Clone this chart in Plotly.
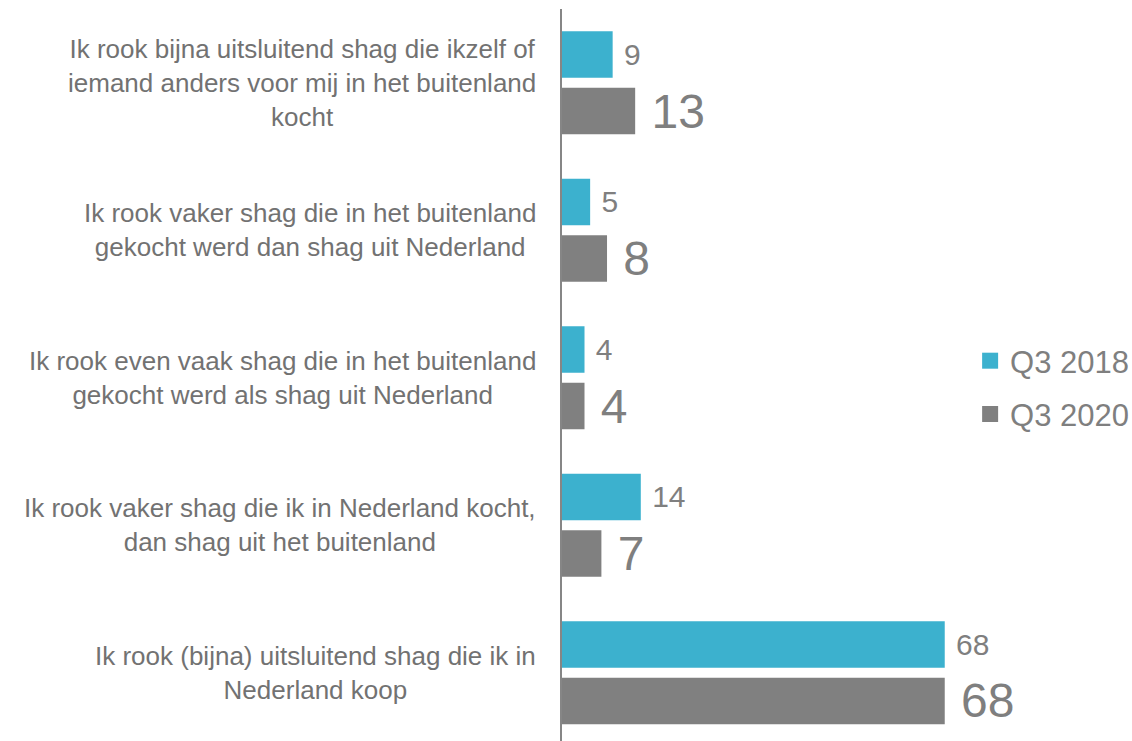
import plotly.graph_objects as go

categories = [
    "Ik rook bijna uitsluitend shag die ikzelf of<br>iemand anders voor mij in het buitenland<br>kocht",
    "Ik rook vaker shag die in het buitenland<br>gekocht werd dan shag uit Nederland",
    "Ik rook even vaak shag die in het buitenland<br>gekocht werd als shag uit Nederland",
    "Ik rook vaker shag die ik in Nederland kocht,<br>dan shag uit het buitenland",
    "Ik rook (bijna) uitsluitend shag die ik in<br>Nederland koop",
]
series_names = ["Q3 2018", "Q3 2020"]
values_2018 = [9, 5, 4, 14, 68]
values_2020 = [13, 8, 4, 7, 68]

FONT = "Liberation Sans, Arial, sans-serif"
CYAN = "#3CB1CE"
GREY = "#808080"
TEXT_GREY = "#7F7F7F"
TICK_GREY = "#727272"

fig = go.Figure()
for name, vals, col, size in [
    (series_names[0], values_2018, CYAN, 30),
    (series_names[1], values_2020, GREY, 48),
]:
    fig.add_trace(go.Bar(
        y=categories, x=vals, orientation="h", name=name,
        marker=dict(color=col, line=dict(width=0)),
        text=vals, texttemplate="\u00a0%{x}", textposition="outside",
        textfont=dict(size=size, color=TEXT_GREY, family=FONT),
        constraintext="none", cliponaxis=False, showlegend=False,
        hoverinfo="skip",
    ))

# legend entries with larger square symbols
for name, col in zip(series_names, [CYAN, GREY]):
    fig.add_trace(go.Scatter(
        x=[None], y=[None], mode="markers", name=name, legendgroup=name,
        marker=dict(symbol="square", size=16, color=col),
    ))

annotations = [
    dict(x=0, xref="paper", y=c, yref="y", text=c, showarrow=False,
         xanchor="right", yanchor="middle", xshift=-24, align="center",
         font=dict(size=26, color=TICK_GREY, family=FONT))
    for c in categories
]

fig.update_layout(
    width=1132, height=741,
    margin=dict(l=562, r=176, t=9, b=0),
    paper_bgcolor="white", plot_bgcolor="white",
    barmode="group", bargap=0.233, bargroupgap=0.177,
    font=dict(family=FONT, color=TEXT_GREY),
    xaxis=dict(visible=False, range=[0, 70], fixedrange=True),
    yaxis=dict(
        type="category", categoryorder="array", categoryarray=categories,
        range=[4.463, -0.5], showticklabels=False, ticks="",
        showgrid=False, zeroline=False, showline=True,
        linecolor="#868686", linewidth=1.5, fixedrange=True,
    ),
    legend=dict(
        xref="container", yref="container", x=0.857, y=0.477,
        xanchor="left", yanchor="middle", traceorder="grouped",
        tracegroupgap=10, font=dict(size=31, color=TEXT_GREY, family=FONT),
        bgcolor="rgba(0,0,0,0)",
    ),
    annotations=annotations,
    showlegend=True,
)

fig.write_html(
    "out.html",
    config={"displayModeBar": False},
    post_script="document.body.style.margin='0';document.body.style.padding='0';",
)
